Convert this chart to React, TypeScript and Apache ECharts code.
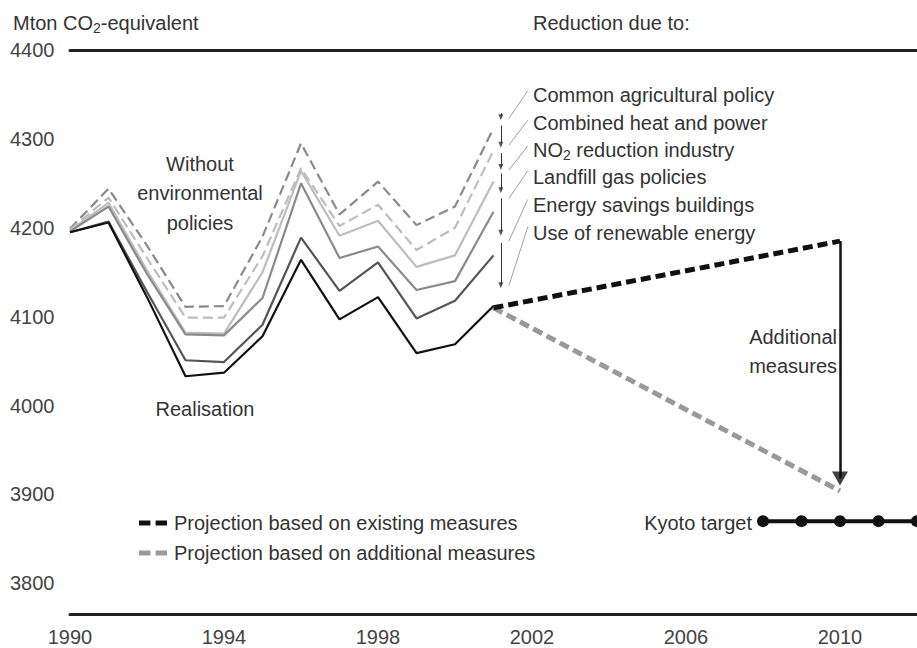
import React, { useEffect, useRef } from "react";
import * as echarts from "echarts";

const FONT = "'Liberation Sans', Arial, Helvetica, sans-serif";

const years = [1990, 1991, 1992, 1993, 1994, 1995, 1996, 1997, 1998, 1999, 2000, 2001];
const withoutPolicies = [4199, 4244, 4180, 4111, 4112, 4190, 4295, 4215, 4252, 4203, 4224, 4312];
const level2 = [4198, 4234, 4166, 4099, 4099, 4168, 4267, 4202, 4226, 4175, 4200, 4287];
const level3 = [4197, 4228, 4152, 4082, 4081, 4150, 4264, 4191, 4208, 4156, 4169, 4252];
const level4 = [4196, 4224, 4148, 4080, 4079, 4121, 4250, 4166, 4179, 4130, 4140, 4218];
const level5 = [4195, 4207, 4128, 4051, 4049, 4091, 4189, 4129, 4161, 4098, 4118, 4169];
const realisation = [4195, 4206, 4122, 4033, 4037, 4078, 4164, 4097, 4122, 4059, 4069, 4112];

const projectionYears = [2001, 2010];
const projectionExisting = [4110, 4185];
const projectionAdditional = [4110, 3904];

const kyotoYears = [2008, 2009, 2010, 2011, 2012];
const kyotoTarget = [3870, 3870, 3870, 3870, 3870];

const additionalArrowYear = 2010;
const additionalArrow = [4185, 3918];

const xTicks = [1990, 1994, 1998, 2002, 2006, 2010];
const yTicks = [3800, 3900, 4000, 4100, 4200, 4300, 4400];

const reductionLabels = [
  "Common agricultural policy",
  "Combined heat and power",
  "{a|NO}{s|2}{a| reduction industry}",
  "Landfill gas policies",
  "Energy savings buildings",
  "Use of renewable energy",
];
const reductionArrowX = 2001.19;
const reductionArrowTop = [4329, 4315, 4284, 4261, 4233, 4183];
const reductionArrowBottom = [4321, 4290, 4265, 4239, 4191, 4132];
const leaderX = [2001.4, 2001.89];
const leaderLow = [4323, 4293, 4265, 4233, 4185, 4135];
const leaderHigh = [4354, 4321, 4292, 4264, 4232, 4201];

const EXISTING = "Projection based on existing measures";
const ADDITIONAL = "Projection based on additional measures";

const subRich = {
  a: { fontSize: 20, lineHeight: 24, fontFamily: FONT, fill: "#333" },
  s: { fontSize: 14, verticalAlign: "top", padding: [10, 0, 0, 0], fontFamily: FONT, fill: "#333" },
};

function lineSeries(name: string, values: number[], color: string, dashed: boolean, z: number, extra: any = {}) {
  return {
    name,
    type: "line",
    data: years.map((y, i) => [y, values[i]]),
    symbol: "none",
    z,
    itemStyle: { color },
    lineStyle: { color, width: 2.2, type: dashed ? [10, 5] : "solid" },
    silent: true,
    ...extra,
  };
}

export default function App() {
  const ref = useRef<HTMLDivElement>(null);
  useEffect(() => {
    if (!ref.current) return;
    const chart = echarts.init(ref.current, null, { renderer: "svg" });
    const text = (t: string, x: number, y: number, align: string, extra: any = {}) => ({
      type: "text",
      x,
      y,
      silent: true,
      style: {
        text: t,
        fill: "#333",
        fontSize: 20,
        fontFamily: FONT,
        align,
        verticalAlign: "middle",
        ...extra,
      },
    });
    const labelYs = [95, 123, 150, 177, 205, 233];
    // scale: 564.5 px for 635 units
    const unitPx = 564.5 / 635;
    chart.setOption({
      animation: false,
      grid: { left: 70, top: 50, width: 851, height: 564.5 },
      xAxis: [
        {
          type: "value",
          min: 1990,
          max: 2012,
          interval: 4,
          position: "bottom",
          axisLine: { show: true, lineStyle: { color: "#222", width: 3 } },
          axisTick: { show: false },
          splitLine: { show: false },
          axisLabel: {
            customValues: xTicks,
            fontSize: 20,
            color: "#444",
            fontFamily: FONT,
            margin: 12,
            formatter: (v: number) => String(v),
          },
        },
        {
          type: "value",
          min: 1990,
          max: 2012,
          position: "top",
          axisLine: { show: true, lineStyle: { color: "#222", width: 3 } },
          axisTick: { show: false },
          axisLabel: { show: false },
          splitLine: { show: false },
        },
      ],
      yAxis: {
        type: "value",
        min: 3765,
        max: 4400,
        axisLine: { show: false },
        axisTick: { show: false },
        splitLine: { show: false },
        axisLabel: {
          customValues: yTicks,
          align: "left",
          margin: 60,
          fontSize: 20,
          color: "#444",
          fontFamily: FONT,
          formatter: (v: number) => String(v),
        },
      },
      legend: {
        data: [EXISTING, ADDITIONAL],
        orient: "vertical",
        left: 134,
        top: 507,
        itemWidth: 28,
        itemHeight: 6,
        itemGap: 8,
        selectedMode: false,
        icon: "path://M0,0H11V5H0Z M16,0H27V5H16Z",
        itemStyle: { borderWidth: 0 },
        textStyle: { fontSize: 20, color: "#333", fontFamily: FONT, lineHeight: 22, padding: [0, 0, 0, 2] },
      },
      series: [
        lineSeries("Without environmental policies", withoutPolicies, "#8a8a8a", true, 2, {
          markLine: {
            silent: true,
            symbol: ["none", "none"],
            label: { show: false },
            lineStyle: { color: "#333", width: 1, type: "solid" },
            data: reductionArrowTop.map((t, i) => [
              { coord: [reductionArrowX, t] },
              { coord: [reductionArrowX, reductionArrowBottom[i] + 3 / unitPx] },
            ]),
          },
        }),
        lineSeries("level2", level2, "#bdbdbd", true, 3, {
          markLine: {
            silent: true,
            symbol: ["none", "none"],
            label: { show: false },
            lineStyle: { color: "#a0a0a0", width: 1, type: "solid" },
            data: leaderLow.map((l, i) => [
              { coord: [leaderX[0], l] },
              { coord: [leaderX[1], leaderHigh[i]] },
            ]),
          },
        }),
        lineSeries("level3", level3, "#bdbdbd", false, 4),
        lineSeries("level4", level4, "#8a8a8a", false, 5),
        lineSeries("level5", level5, "#555555", false, 6),
        lineSeries("Realisation", realisation, "#111111", false, 7),
        {
          name: "reduction arrow heads",
          type: "scatter",
          silent: true,
          z: 9,
          symbol: "triangle",
          symbolRotate: 180,
          symbolSize: [5, 6],
          itemStyle: { color: "#333" },
          data: reductionArrowBottom.map((b) => [reductionArrowX, b + 3 / unitPx]),
        },
        {
          name: EXISTING,
          type: "line",
          data: projectionYears.map((y, i) => [y, projectionExisting[i]]),
          symbol: "none",
          z: 8,
          silent: true,
          itemStyle: { color: "#111" },
          lineStyle: { color: "#111", width: 5, type: [10, 5] },
          markLine: {
            silent: true,
            symbol: ["none", "none"],
            label: { show: false },
            lineStyle: { color: "#111", width: 2.5, type: "solid" },
            data: [[{ coord: [additionalArrowYear, additionalArrow[0]] }, { coord: [additionalArrowYear, additionalArrow[1]] }]],
          },
        },
        {
          name: "additional arrow head",
          type: "scatter",
          silent: true,
          z: 9,
          symbol: "triangle",
          symbolRotate: 180,
          symbolSize: [16, 14],
          itemStyle: { color: "#111" },
          data: [[additionalArrowYear, additionalArrow[1]]],
        },
        {
          name: ADDITIONAL,
          type: "line",
          data: projectionYears.map((y, i) => [y, projectionAdditional[i]]),
          symbol: "none",
          z: 7,
          silent: true,
          itemStyle: { color: "#999" },
          lineStyle: { color: "#999", width: 5, type: [10, 5] },
        },
        {
          name: "Kyoto target",
          type: "line",
          data: kyotoYears.map((y, i) => [y, kyotoTarget[i]]),
          symbol: "circle",
          symbolSize: 12,
          showAllSymbol: true,
          z: 9,
          silent: true,
          itemStyle: { color: "#111" },
          lineStyle: { color: "#111", width: 4 },
        },
      ],
      graphic: [
        text("{a|Mton CO}{s|2}{a|-equivalent}", 13, 23, "left", { rich: subRich }),
        text("Reduction due to:", 533, 23, "left"),
        text("Without\nenvironmental\npolicies", 200, 193, "center", { lineHeight: 29.5 }),
        text("Realisation", 205, 409, "center"),
        ...reductionLabels.map((l, i) =>
          text(l, 533, labelYs[i], "left", i === 2 ? { rich: subRich } : {})
        ),
        text("Additional\nmeasures", 837, 351, "right", { lineHeight: 29 }),
        text("Kyoto target", 752, 523, "right"),
      ],
    });
    return () => chart.dispose();
  }, []);
  return (
    <div
      ref={ref}
      style={{ position: "fixed", left: 0, top: 0, width: 917, height: 648, overflow: "hidden", background: "#fff" }}
    />
  );
}
